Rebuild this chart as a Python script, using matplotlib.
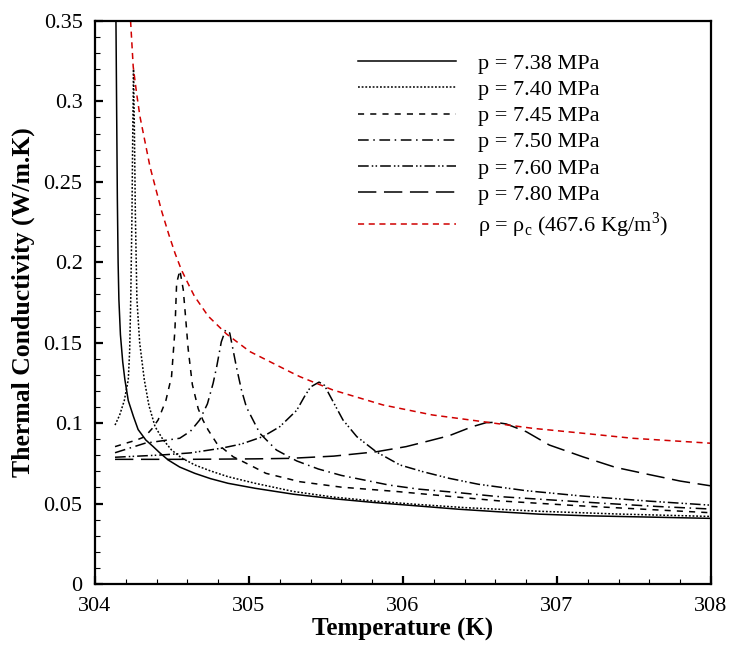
import matplotlib
matplotlib.use('Agg')
import matplotlib.pyplot as plt

plt.rcParams['font.family'] = ['Liberation Serif', 'DejaVu Serif']
plt.rcParams['mathtext.fontset'] = 'custom'
plt.rcParams['mathtext.rm'] = 'Liberation Serif'

# p = 7.38 MPa
t_738 = [304.136, 304.14, 304.145, 304.15, 304.155, 304.165, 304.18, 304.194, 304.216, 304.25,
         304.28, 304.33, 304.378, 304.42, 304.475, 304.55, 304.648, 304.75, 304.864, 305.04,
         305.29, 305.55, 305.82, 306.1, 306.36, 306.62, 306.89, 307.2, 307.5, 307.75, 308.0]
k_738 = [0.35, 0.30, 0.24, 0.20, 0.177, 0.155, 0.138, 0.127, 0.114, 0.104,
         0.096, 0.0895, 0.0854, 0.0816, 0.0771, 0.0727, 0.0688, 0.0655, 0.0626, 0.0595,
         0.0558, 0.053, 0.0506, 0.0485, 0.0465, 0.0449, 0.0434, 0.0424, 0.0418, 0.0413, 0.0408]

# p = 7.40 MPa
t_740 = [304.13, 304.16, 304.19, 304.216, 304.225, 304.232, 304.24, 304.245, 304.25, 304.256,
         304.262, 304.272, 304.29, 304.32, 304.35, 304.39, 304.44, 304.497, 304.56, 304.648,
         304.75, 304.864, 305.04, 305.29, 305.55, 305.82, 306.09, 306.4, 306.89, 307.4, 308.0]
k_740 = [0.0988, 0.105, 0.114, 0.127, 0.145, 0.177, 0.23, 0.28, 0.32, 0.28,
         0.23, 0.177, 0.15, 0.127, 0.111, 0.0978, 0.09, 0.0833, 0.0785, 0.074,
         0.0703, 0.0667, 0.0626, 0.0575, 0.054, 0.0515, 0.0495, 0.0475, 0.0452, 0.0435, 0.042]

# p = 7.45 MPa
t_745 = [304.13, 304.2, 304.27, 304.324, 304.37, 304.41, 304.46, 304.497, 304.519, 304.53,
         304.551, 304.573, 304.588, 304.605, 304.632, 304.67, 304.70, 304.735, 304.79, 304.897,
         305.015, 305.11, 305.33, 305.6, 305.96, 306.3, 306.62, 307.15, 307.6, 308.0]
k_745 = [0.0854, 0.0875, 0.0895, 0.0916, 0.0965, 0.102, 0.114, 0.129, 0.158, 0.187,
         0.195, 0.183, 0.166, 0.146, 0.124, 0.109, 0.102, 0.0957, 0.0875, 0.0791,
         0.0735, 0.0688, 0.0636, 0.0602, 0.0575, 0.0545, 0.0517, 0.0486, 0.0463, 0.0443]

# p = 7.50 MPa
t_750 = [304.13, 304.324, 304.55, 304.62, 304.68, 304.73, 304.767, 304.79, 304.82, 304.848,
         304.875, 304.918, 304.95, 304.983, 305.07, 305.178, 305.31, 305.45, 305.6, 305.91,
         306.1, 306.36, 306.6, 306.89, 307.3, 307.65, 308.0]
k_750 = [0.0816, 0.0875, 0.0906, 0.095, 0.102, 0.112, 0.1248, 0.135, 0.1505, 0.158,
         0.156, 0.135, 0.121, 0.110, 0.0937, 0.0833, 0.0765, 0.0715, 0.0675, 0.0615,
         0.059, 0.0568, 0.0545, 0.0527, 0.0502, 0.0482, 0.0466]

# p = 7.60 MPa
t_760 = [304.13, 304.43, 304.62, 304.82, 304.95, 305.09, 305.2, 305.31, 305.36, 305.40,
         305.455, 305.49, 305.52, 305.565, 305.61, 305.70, 305.826, 305.98, 306.13, 306.30,
         306.49, 306.8, 307.15, 307.6, 308.0]
k_760 = [0.0788, 0.0802, 0.0815, 0.0844, 0.087, 0.0916, 0.0978, 0.108, 0.1165, 0.1225,
         0.1255, 0.1235, 0.118, 0.11, 0.102, 0.0916, 0.0822, 0.074, 0.0698, 0.0657,
         0.062, 0.058, 0.0548, 0.0515, 0.049]

# p = 7.80 MPa
t_780 = [304.13, 304.6, 305.04, 305.264, 305.55, 305.826, 306.02, 306.17, 306.30, 306.45,
         306.54, 306.6, 306.67, 306.8, 306.95, 307.17, 307.38, 307.6, 307.8, 308.0]
k_780 = [0.0775, 0.0775, 0.0778, 0.0781, 0.0795, 0.0822, 0.0854, 0.089, 0.0922, 0.0978,
         0.1003, 0.1005, 0.0995, 0.0947, 0.0864, 0.079, 0.0725, 0.068, 0.064, 0.061]

# rho = rho_c
t_rc = [304.231, 304.248, 304.27, 304.292, 304.357, 304.432, 304.48, 304.52, 304.56, 304.616,
        304.645, 304.735, 304.853, 305.005, 305.264, 305.33, 305.545, 305.87, 306.19, 306.52,
        306.84, 307.17, 307.49, 308.0]
k_rc = [0.35, 0.3216, 0.305, 0.2905, 0.2594, 0.232, 0.217, 0.2055, 0.1955, 0.1845,
        0.179, 0.1665, 0.1555, 0.1445, 0.132, 0.1289, 0.1206, 0.1113, 0.1051, 0.1009,
        0.0968, 0.0937, 0.0906, 0.0875]

series = [
    (t_738, k_738, 'p = 7.38 MPa', 'k', '-'),
    (t_740, k_740, 'p = 7.40 MPa', 'k', (0, (1.2, 1.2))),
    (t_745, k_745, 'p = 7.45 MPa', 'k', (0, (4, 4))),
    (t_750, k_750, 'p = 7.50 MPa', 'k', (0, (7, 3, 1, 3))),
    (t_760, k_760, 'p = 7.60 MPa', 'k', (0, (7, 2, 1, 1.5, 1, 2))),
    (t_780, k_780, 'p = 7.80 MPa', 'k', (0, (12, 5))),
    (t_rc, k_rc, 'ρ = ρ$_\\mathregular{c}$ (467.6 Kg/m$^\\mathregular{3}$)', '#d00000', (0, (4, 3))),
]

fig = plt.figure(figsize=(7.32, 6.54), dpi=100)
ax = fig.add_axes([0.1298, 0.107, 0.8415, 0.861])

for t, k, label, color, ls in series:
    ax.plot(t, k, color=color, linestyle=ls, linewidth=1.1, label=label)

ax.set_xlim(304, 308)
ax.set_ylim(0, 0.35)
ax.set_xticks([304, 305, 306, 307, 308])
ax.set_xticks([304 + 0.2 * i for i in range(21)], minor=True)
ax.set_yticks([0, 0.05, 0.1, 0.15, 0.2, 0.25, 0.3, 0.35])
ax.set_yticks([0.01 * i for i in range(36)], minor=True)
ax.set_yticklabels(['0', '0.05', '0.1', '0.15', '0.2', '0.25', '0.3', '0.35'])
ax.tick_params(which='both', direction='in', top=False, right=False, labelsize=16)
ax.tick_params(which='major', length=6, width=1.6, pad=9)
ax.tick_params(which='minor', length=3.5, width=0.8)
for sp in ax.spines.values():
    sp.set_linewidth(1.6)

ax.set_xlabel('Temperature (K)', fontsize=18, fontweight='bold', labelpad=2)
ax.set_ylabel('Thermal Conductivity (W/m.K)', fontsize=18.5, fontweight='bold', labelpad=6)

ax.legend(loc='upper left', bbox_to_anchor=(0.427, 0.942), frameon=False, fontsize=16,
          handlelength=4.4, handletextpad=1.0, labelspacing=0.25, borderpad=0, borderaxespad=0)

plt.savefig('out.png', dpi=100)
